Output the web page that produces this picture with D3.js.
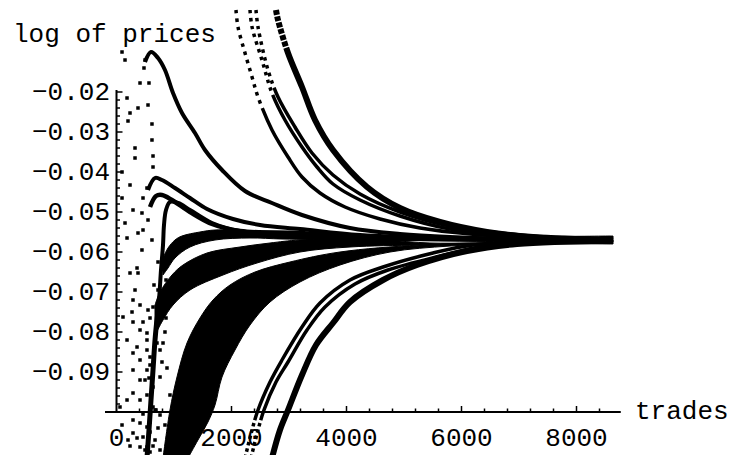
<!DOCTYPE html>
<html>
<head>
<meta charset="utf-8">
<script src="https://cdn.jsdelivr.net/npm/d3@7"></script>
<style>
  body { margin: 0; background: #fff; }
  svg text { font-family: "Liberation Mono", "DejaVu Sans Mono", monospace; font-size: 26px; fill: #000; }
</style>
</head>
<body>
<div id="chart"></div>
<script>
// Series: [trades, log of price]
var archA = [[496,-0.0125],[600,-0.01],[722,-0.0115],[843,-0.0145],[983,-0.02025],[1139,-0.02525],[1365,-0.03025],[1539,-0.0345],[1835,-0.0395],[2235,-0.04475],[2704,-0.04775],[3226,-0.05075],[4061,-0.054],[4930,-0.0555],[5800,-0.05625],[7017,-0.05675],[8635,-0.057]];
var archB1 = [[548,-0.0445],[670,-0.0415],[791,-0.042],[1017,-0.044],[1278,-0.0465],[1574,-0.04925],[2026,-0.05175],[2496,-0.05325],[3191,-0.05425],[4235,-0.05575],[5800,-0.0565],[8635,-0.05675]];
var archB2 = [[583,-0.04875],[687,-0.046],[791,-0.04575],[965,-0.047],[1278,-0.05],[1661,-0.053],[2148,-0.05475],[3191,-0.05525],[4061,-0.05625],[8635,-0.057]];
var riseD = [[687,-0.0795],[739,-0.072],[774,-0.0645],[809,-0.05825],[826,-0.05325],[861,-0.0495],[930,-0.0475],[1070,-0.04775],[1278,-0.0495],[1661,-0.05275],[2148,-0.05475],[3191,-0.056],[8635,-0.057]];
var spineL = [[530,-0.1115],[565,-0.1045],[600,-0.097],[635,-0.0895],[670,-0.082],[704,-0.077],[757,-0.072]];

var fallU1 = [[2078,0.0005],[2113,-0.00375],[2235,-0.01025],[2357,-0.01625],[2461,-0.02125],[2704,-0.0295],[2983,-0.03625],[3226,-0.04125],[3539,-0.04525],[3974,-0.04875],[4583,-0.05175],[5278,-0.054],[6148,-0.0555],[7365,-0.0565],[8635,-0.057]];
var fallU2 = [[2322,0.0005],[2357,-0.00375],[2530,-0.012],[2704,-0.02025],[2930,-0.027],[3226,-0.03375],[3487,-0.03875],[3765,-0.043],[4235,-0.047],[4930,-0.051],[5800,-0.05425],[7017,-0.056],[8635,-0.057]];
var fallU3 = [[2426,0.0005],[2461,-0.00375],[2635,-0.0145],[2809,-0.02125],[3104,-0.02875],[3400,-0.03525],[3765,-0.04075],[4235,-0.0455],[4930,-0.05],[5800,-0.0535],[7017,-0.05575],[8635,-0.057]];
var fallU4 = [[2774,0.0005],[2809,-0.002],[2983,-0.01025],[3226,-0.01875],[3452,-0.027],[3765,-0.0345],[4357,-0.04375],[4930,-0.049],[5626,-0.0525],[6443,-0.055],[7243,-0.05625],[8635,-0.057]];

var riseO1 = [[2235,-0.1115],[2357,-0.1045],[2461,-0.0995],[2670,-0.0925],[2878,-0.087],[3226,-0.07875],[3539,-0.07275],[4061,-0.067],[4635,-0.06375],[5504,-0.06025],[6200,-0.05825],[7365,-0.05725],[8635,-0.057]];
var riseO2 = [[2339,-0.1115],[2461,-0.1045],[2565,-0.0995],[2774,-0.0925],[2983,-0.0875],[3313,-0.0795],[3626,-0.07375],[4148,-0.068],[4722,-0.0645],[5626,-0.061],[6322,-0.05875],[7452,-0.0575],[8635,-0.05725]];
var riseO3 = [[2704,-0.1115],[2843,-0.1045],[2983,-0.0995],[3226,-0.09075],[3470,-0.08325],[3765,-0.07775],[4061,-0.0725],[4635,-0.067],[5226,-0.06325],[6096,-0.05975],[6965,-0.058],[8635,-0.05725]];

// dense bundles: upper and lower edge of each
var bundleR1Top = [[809,-0.0615],[896,-0.059],[1017,-0.057],[1139,-0.056],[1452,-0.055],[1713,-0.0545],[2322,-0.05475],[2878,-0.05525],[4061,-0.056],[5800,-0.05625],[8635,-0.056]];
var bundleR1Bottom = [[809,-0.06575],[896,-0.064],[1017,-0.0615],[1278,-0.05875],[1713,-0.057],[2322,-0.0565],[2878,-0.05675],[4061,-0.057],[5800,-0.05725],[7017,-0.0575],[8635,-0.058]];
var bundleR2Top = [[670,-0.07325],[757,-0.07],[965,-0.06575],[1157,-0.06325],[1574,-0.06025],[2148,-0.05875],[2670,-0.05775],[3191,-0.057],[4583,-0.057],[5452,-0.05775],[6148,-0.05775],[7017,-0.0575],[8635,-0.057]];
var bundleR2Bottom = [[670,-0.08075],[809,-0.077],[983,-0.07325],[1278,-0.0695],[1852,-0.06575],[2443,-0.06275],[3191,-0.06],[4061,-0.05875],[5278,-0.05825],[7017,-0.05775],[8635,-0.05725]];
var bundleMTop = [[809,-0.1115],[930,-0.0995],[1052,-0.09125],[1226,-0.08275],[1452,-0.0765],[1678,-0.072],[1974,-0.06825],[2409,-0.065],[3017,-0.0625],[3887,-0.06],[5278,-0.05825],[7017,-0.0575],[8635,-0.05725]];
var bundleMBottom = [[1243,-0.1115],[1417,-0.107],[1591,-0.1025],[1713,-0.09825],[1835,-0.09125],[2061,-0.0845],[2322,-0.07825],[2670,-0.0725],[3191,-0.0675],[3887,-0.06325],[4757,-0.06],[5800,-0.0585],[7017,-0.05775],[8635,-0.0575]];

// scattered early trades
var earlyDots = [[96,-0.01],[148,-0.012],[496,-0.012],[478,-0.014],[409,-0.01775],[565,-0.01775],[183,-0.0215],[374,-0.024],[548,-0.02325],[235,-0.02525],[200,-0.02725],[617,-0.028],[617,-0.032],[322,-0.034],[322,-0.0365],[635,-0.036],[635,-0.03875],[96,-0.04],[235,-0.04325],[530,-0.044],[461,-0.0465],[96,-0.0465],[287,-0.0495],[443,-0.05025],[148,-0.05275],[548,-0.052],[461,-0.0545],[374,-0.05525],[183,-0.0565],[617,-0.057],[443,-0.0595],[357,-0.064],[235,-0.06525],[374,-0.06525],[287,-0.072],[409,-0.07325],[548,-0.0745],[270,-0.075],[113,-0.07625],[635,-0.07375],[287,-0.0775],[409,-0.0795],[530,-0.08025],[183,-0.082],[357,-0.08375],[704,-0.08275],[809,-0.08275],[287,-0.08525],[757,-0.0845],[409,-0.087],[583,-0.08625],[791,-0.0875],[287,-0.0895],[530,-0.0895],[757,-0.09125],[409,-0.092],[635,-0.09375],[287,-0.09525],[530,-0.09575],[183,-0.097],[409,-0.097],[635,-0.09875],[61,-0.09875],[287,-0.102],[409,-0.10275],[530,-0.10375],[287,-0.10525],[461,-0.10625],[409,-0.10875],[530,-0.10875],[670,-0.107],[583,-0.11],[722,-0.104],[757,-0.10075],[322,-0.0695],[722,-0.0695],[461,-0.1005],[583,-0.1025],[670,-0.0995],[357,-0.1065],[496,-0.1095],[635,-0.1085],[235,-0.1085],[530,-0.0845],[461,-0.0775],[565,-0.0915],
    [722,-0.0625],[861,-0.067],[652,-0.06825],[809,-0.072],[583,-0.0765],[861,-0.0765],[530,-0.082],[843,-0.08],[583,-0.08825],[878,-0.089],[496,-0.092],[930,-0.09575],[687,-0.0995],[843,-0.10325],[583,-0.105],[930,-0.107],[757,-0.1095],[200,-0.107],[96,-0.10325]];

var yTickValues = [-0.02, -0.03, -0.04, -0.05, -0.06, -0.07, -0.08, -0.09];
var yTickLabels = ['\u22120.02', '\u22120.03', '\u22120.04', '\u22120.05', '\u22120.06', '\u22120.07', '\u22120.08', '\u22120.09'];
var xTickValues = [0, 2000, 4000, 6000, 8000];
var xTickLabels = ['0', '2000', '4000', '6000', '8000'];

var width = 731, height = 455;

var x = d3.scaleLinear().domain([0, 8000]).range([116.5, 576.5]);
var y = d3.scaleLinear().domain([-0.02, -0.09]).range([92, 372]);
var yBase = -0.1;

var svg = d3.select('#chart').append('svg')
    .attr('width', width)
    .attr('height', height);

// axes
var axisY0 = y(yBase);
var axes = svg.append('g').attr('stroke', '#000');
axes.append('line')
    .attr('x1', x(-200)).attr('x2', x(8770))
    .attr('y1', axisY0).attr('y2', axisY0)
    .attr('stroke-width', 2);
axes.append('line')
    .attr('x1', x(0)).attr('x2', x(0))
    .attr('y1', axisY0).attr('y2', y(-0.0195))
    .attr('stroke-width', 2);

// minor + major ticks, pointing into the plot
d3.range(400, 8770, 400).forEach(function(t) {
    var major = t % 2000 === 0;
    axes.append('line')
        .attr('x1', x(t)).attr('x2', x(t))
        .attr('y1', axisY0).attr('y2', axisY0 - (major ? 6 : 3.5))
        .attr('stroke-width', 1.5);
});
d3.range(-98, -19, 2).forEach(function(k) {
    var v = k / 1000;
    var major = k % 10 === 0;
    axes.append('line')
        .attr('x1', x(0)).attr('x2', x(0) + (major ? 6 : 3.5))
        .attr('y1', y(v)).attr('y2', y(v))
        .attr('stroke-width', 1.5);
});

svg.selectAll('text.ytick')
    .data(yTickValues)
    .enter().append('text')
    .attr('class', 'ytick')
    .attr('x', 110)
    .attr('y', function(d) { return y(d) + 8; })
    .attr('text-anchor', 'end')
    .text(function(d, i) { return yTickLabels[i]; });

svg.selectAll('text.xtick')
    .data(xTickValues)
    .enter().append('text')
    .attr('class', 'xtick')
    .attr('x', function(d) { return x(d); })
    .attr('y', axisY0 + 34)
    .attr('text-anchor', 'middle')
    .text(function(d, i) { return xTickLabels[i]; });

svg.append('text').attr('x', 13).attr('y', 42).text('log of prices');
svg.append('text').attr('x', 635).attr('y', 419).text('trades');

// data
var line = d3.line()
    .x(function(d) { return x(d[0]); })
    .y(function(d) { return y(d[1]); })
    .curve(d3.curveCatmullRom.alpha(0.5));

var bandPath = function(top, bottom) {
    var up = line(top);
    var lo = line(bottom.slice().reverse());
    return up + 'L' + lo.slice(1) + 'Z';
};

var plot = svg.append('g');

[[bundleR1Top, bundleR1Bottom], [bundleR2Top, bundleR2Bottom], [bundleMTop, bundleMBottom]].forEach(function(b) {
    plot.append('path')
        .attr('d', bandPath(b[0], b[1]))
        .attr('fill', '#000')
        .attr('stroke', '#000')
        .attr('stroke-width', 1);
});

// dotted start where the dots are spread out
var dots = function(n, on, off) {
    var a = [];
    for (var i = 0; i < n; i++) { a.push(on, off); }
    a.push(4000, 0);
    return a.join(',');
};

var curves = [
    { data: archA, w: 4 },
    { data: archB1, w: 4 },
    { data: archB2, w: 4.5 },
    { data: riseD, w: 4 },
    { data: spineL, w: 5 },
    { data: fallU1, w: 3.5, dash: dots(12, 3.5, 5) },
    { data: fallU2, w: 3.5, dash: dots(11, 3.5, 4.5) },
    { data: fallU3, w: 3.5, dash: dots(10, 3.5, 4.5) },
    { data: fallU4, w: 6, dash: dots(6, 5, 1.5) },
    { data: riseO1, w: 3.5, dash: dots(6, 3.5, 3) },
    { data: riseO2, w: 3.5, dash: dots(6, 3.5, 3) },
    { data: riseO3, w: 6 }
];

curves.forEach(function(c) {
    plot.append('path')
        .attr('d', line(c.data))
        .attr('fill', 'none')
        .attr('stroke', '#000')
        .attr('stroke-width', c.w)
        .attr('stroke-linejoin', 'round')
        .attr('stroke-dasharray', c.dash || null);
});

plot.selectAll('rect.early')
    .data(earlyDots)
    .enter().append('rect')
    .attr('class', 'early')
    .attr('x', function(d) { return x(d[0]) - 1.75; })
    .attr('y', function(d) { return y(d[1]) - 1.75; })
    .attr('width', 3.5)
    .attr('height', 3.5)
    .attr('fill', '#000');
</script>
</body>
</html>
